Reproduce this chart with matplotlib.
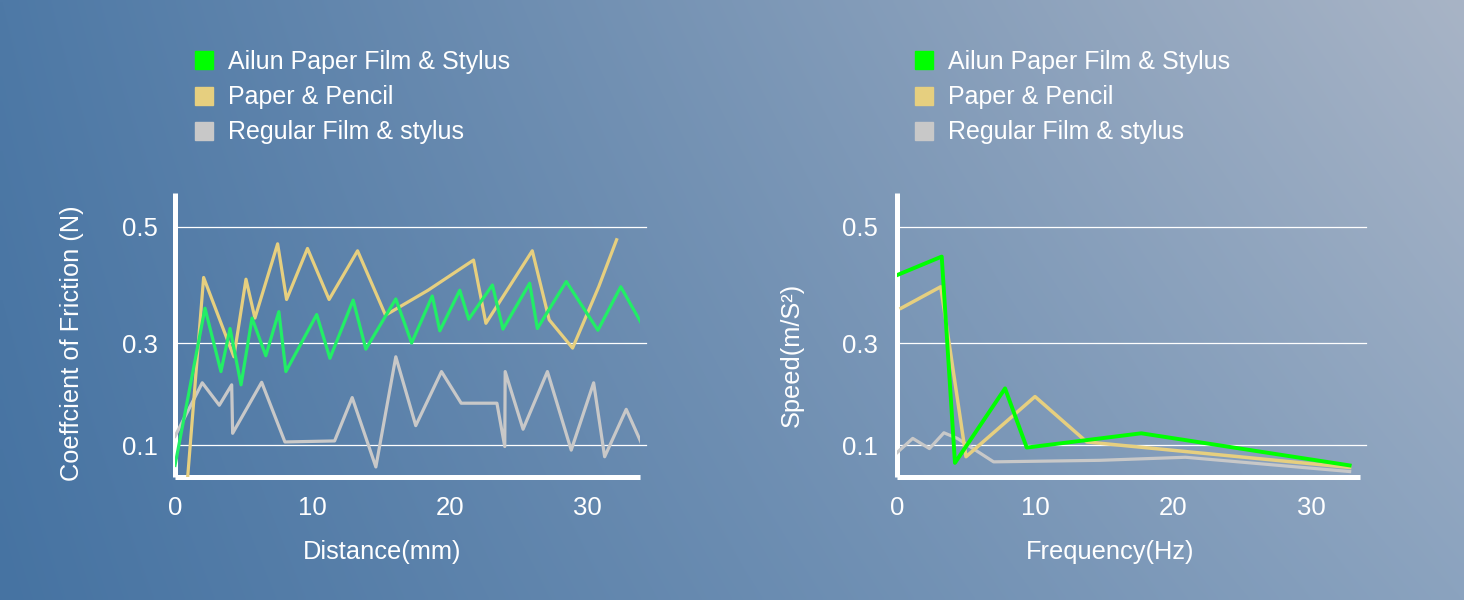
import numpy as np
import matplotlib
matplotlib.use("Agg")
import matplotlib.pyplot as plt
from matplotlib.lines import Line2D

plt.rcParams['font.family'] = ['Liberation Sans', 'DejaVu Sans']

# ---------------- data ----------------
series_names = ["Ailun Paper Film & Stylus", "Paper & Pencil", "Regular Film & stylus"]

# Left chart: friction vs distance
dist_ailun = [0.0, 2.18, 3.34, 4.0, 4.8, 5.6, 6.6, 7.55, 8.06, 10.3, 11.26, 12.95, 13.87, 16.05,
              17.2, 18.7, 19.25, 20.7, 21.35, 23.07, 23.84, 25.78, 26.34, 28.44, 30.74, 32.4, 33.9]
fric_ailun = [0.06, 0.36, 0.244, 0.325, 0.218, 0.343, 0.275, 0.354, 0.244, 0.349, 0.27, 0.374, 0.288, 0.376,
              0.30, 0.381, 0.321, 0.391, 0.341, 0.40, 0.324, 0.403, 0.325, 0.406, 0.322, 0.397, 0.334]

dist_paper = [0.9, 2.08, 4.28, 5.16, 5.81, 7.46, 8.11, 9.63, 11.2, 13.27, 15.3, 18.4, 21.7, 22.6,
              25.97, 27.2, 28.9, 30.8, 32.1]
fric_paper = [0.03, 0.413, 0.273, 0.41, 0.343, 0.471, 0.375, 0.463, 0.375, 0.459, 0.348, 0.391, 0.443, 0.334,
              0.459, 0.34, 0.29, 0.397, 0.478]

dist_regular = [0.0, 1.98, 3.22, 4.12, 4.19, 6.3, 7.99, 11.6, 12.88, 14.6, 16.05, 17.5, 19.37, 20.8,
                23.4, 23.97, 24.0, 25.3, 27.07, 28.8, 30.43, 31.23, 32.8, 33.96]
fric_regular = [0.117, 0.222, 0.178, 0.218, 0.123, 0.223, 0.106, 0.108, 0.193, 0.057, 0.273, 0.138, 0.244, 0.182,
                0.182, 0.097, 0.244, 0.131, 0.244, 0.09, 0.222, 0.077, 0.17, 0.10]

# Right chart: speed vs frequency
freq_ailun = [0.0, 3.24, 4.2, 7.83, 9.4, 17.7, 32.8]
speed_ailun = [0.417, 0.449, 0.065, 0.211, 0.095, 0.123, 0.06]

freq_paper = [0.3, 3.17, 5.0, 10.0, 13.75, 32.8]
speed_paper = [0.36, 0.397, 0.077, 0.195, 0.106, 0.056]

freq_regular = [0.0, 1.14, 2.35, 3.4, 4.37, 7.0, 14.7, 20.9, 32.8]
speed_regular = [0.085, 0.113, 0.093, 0.124, 0.113, 0.067, 0.07, 0.076, 0.048]

y_ticks = [0.1, 0.3, 0.5]
y_ticklabels = ["0.1", "0.3", "0.5"]
x_ticks = [0, 10, 20, 30]

# ---------------- style ----------------
left_colors = ["#22ee66", "#e6cf7f", "#c8c8c8"]
right_colors = ["#00ff00", "#e6cf7f", "#c8c8c8"]
legend_colors = ["#00ff00", "#e6cf7f", "#c8c8c8"]

W, H, DPI = 1464, 600, 100
fig = plt.figure(figsize=(W / DPI, H / DPI), dpi=DPI)

# gradient background
bg = fig.add_axes([0, 0, 1, 1], zorder=-10)
tl = np.array([78, 121, 166]) / 255
tr = np.array([168, 180, 198]) / 255
bl = np.array([70, 115, 162]) / 255
br = np.array([139, 163, 191]) / 255
u = np.linspace(0, 1, 300)[None, :, None]
v = np.linspace(0, 1, 150)[:, None, None]
img = (1 - v) * ((1 - u) * tl + u * tr) + v * ((1 - u) * bl + u * br)
bg.imshow(img, aspect='auto', extent=[0, 1, 0, 1], interpolation='bilinear')
bg.axis('off')


def fwd(val):
    val = np.asarray(val, dtype=float)
    return np.where(val < 0.3, (val - 0.1) * 510.0, 102.0 + (val - 0.3) * 580.0)


def inv(p):
    p = np.asarray(p, dtype=float)
    return np.where(p < 102.0, 0.1 + p / 510.0, 0.3 + (p - 102.0) / 580.0)


def px(x, y):
    return x / W, 1 - y / H


AX_LEFT = {"L": 175, "R": 897}
AX_W = {"L": 465, "R": 463}
AX_BOTTOM, AX_TOP = 477, 193
AX_H = AX_BOTTOM - AX_TOP


def setup(ax, key, xmax, xlabel, ylabel, xlabel_cx, ylabel_cx, ylabel_cy, ypad):
    x0, w = AX_LEFT[key], AX_W[key]
    ax.set_facecolor('none')
    ax.set_yscale('function', functions=(fwd, inv))
    ax.set_xlim(0, xmax)
    ax.set_ylim(0.0373, 0.5586)
    ax.set_yticks(y_ticks)
    ax.set_yticklabels(y_ticklabels)
    ax.set_xticks(x_ticks)
    ax.minorticks_off()
    ax.tick_params(length=0, colors='white', labelsize=18.5)
    ax.tick_params(axis='y', pad=ypad)
    ax.tick_params(axis='x', pad=14)
    for s in ['top', 'right']:
        ax.spines[s].set_visible(False)
    for s in ['left', 'bottom']:
        ax.spines[s].set_color('white')
        ax.spines[s].set_linewidth(3.6)
        ax.spines[s].set_capstyle('butt')
    for t in y_ticks:
        ax.plot([0, 1.012], [t, t], transform=ax.get_yaxis_transform(), color='white',
                lw=0.9, zorder=1, clip_on=False)
    ax.set_xlabel(xlabel, color='white', fontsize=18.3)
    ax.set_ylabel(ylabel, color='white', fontsize=18.3)
    ax.xaxis.set_label_coords((xlabel_cx - x0) / w, -(540 - AX_BOTTOM) / AX_H)
    ax.yaxis.set_label_coords(-(x0 - (ylabel_cx + 14)) / w, (AX_BOTTOM - ylabel_cy) / AX_H)


# left axes
axL = fig.add_axes([AX_LEFT["L"] / W, 1 - AX_BOTTOM / H, AX_W["L"] / W, AX_H / H])
setup(axL, "L", 33.8, "Distance(mm)", "Coeffcient of Friction (N)", 382, 70, 343, 12.5)
axL.plot(dist_regular, fric_regular, color=left_colors[2], lw=2.3, zorder=3)
axL.plot(dist_paper, fric_paper, color=left_colors[1], lw=2.3, zorder=4)
axL.plot(dist_ailun, fric_ailun, color=left_colors[0], lw=2.3, zorder=5)

# right axes
axR = fig.add_axes([AX_LEFT["R"] / W, 1 - AX_BOTTOM / H, AX_W["R"] / W, AX_H / H])
setup(axR, "R", 33.55, "Frequency(Hz)", "Speed(m/S²)", 1110, 790, 355, 14)
axR.plot(freq_regular, speed_regular, color=right_colors[2], lw=2.3, zorder=3)
axR.plot(freq_paper, speed_paper, color=right_colors[1], lw=2.5, zorder=4)
axR.plot(freq_ailun, speed_ailun, color=right_colors[0], lw=2.8, zorder=5)

# legends
handles = [Line2D([], [], marker='s', linestyle='none', markersize=13, color=c) for c in legend_colors]
for lx in (191.5, 911.5):
    fig.legend(handles, series_names, loc='upper left', bbox_to_anchor=px(lx, 50),
               frameon=False, fontsize=18, labelcolor='white', handlelength=1.0,
               handletextpad=0.45, labelspacing=0.45, borderpad=0, borderaxespad=0)

fig.savefig("out.png", dpi=DPI)
